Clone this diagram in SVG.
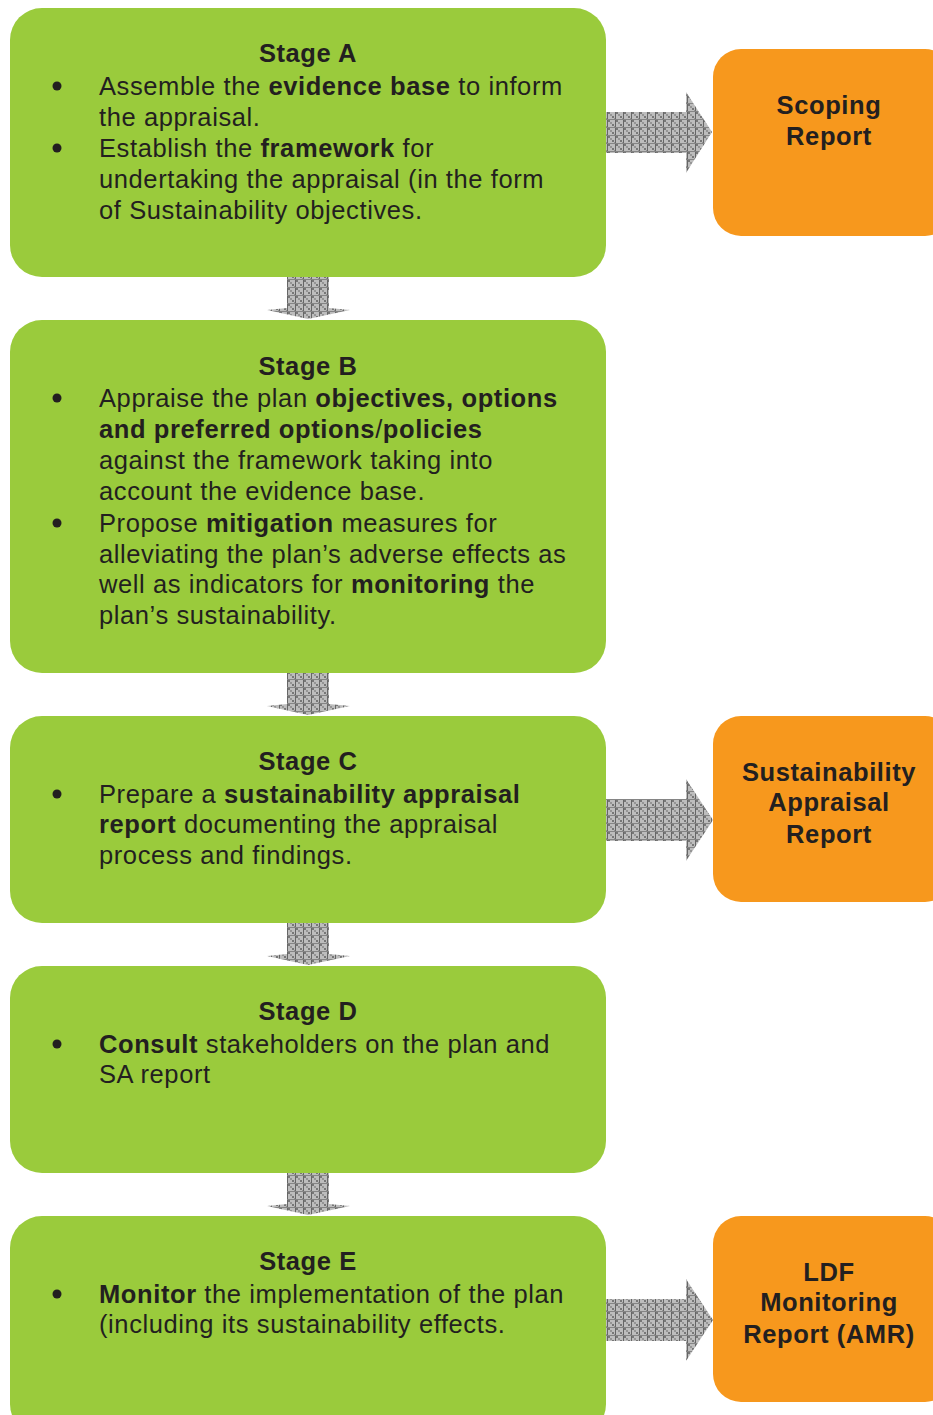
<svg xmlns="http://www.w3.org/2000/svg" width="933" height="1415" viewBox="0 0 933 1415">
<style>
.g{fill:#9acb3c}
.o{fill:#f7981d}
text{font-family:"Liberation Sans",Arial,sans-serif;fill:#231f20;font-size:25.5px;letter-spacing:0.6px}
.h{font-weight:bold;text-anchor:middle}
.r{font-weight:bold;text-anchor:middle}
.b{font-weight:bold}
.arr{fill:url(#pat)}
</style>
<defs>
<pattern id="pat" width="8" height="8" patternUnits="userSpaceOnUse">
<rect width="8" height="8" fill="#bdbdbd"/>
<rect x="0" y="0" width="2" height="2" fill="#777"/>
<rect x="4" y="4" width="2" height="2" fill="#777"/>
<rect x="2" y="2" width="2" height="2" fill="#959595"/>
<rect x="6" y="6" width="2" height="2" fill="#959595"/>
<rect x="7" y="0" width="1" height="8" fill="#666"/>
<rect x="0" y="7" width="8" height="1" fill="#858585"/>
</pattern>
</defs>
<g id="connectors">
<path class="arr" d="M606,112 H686 V92 L712,132 L686,173 V153 H606 Z"/>
<path class="arr" d="M606,799 H686 V779 L713,820 L686,861 V841 H606 Z"/>
<path class="arr" d="M606,1299 H686 V1279 L713,1320 L686,1361 V1341 H606 Z"/>
<path class="arr" d="M287,277 H329 V308 L350,310 L308,319 L267,310 L287,308 Z"/>
<path class="arr" d="M287,673 H329 V704 L350,706 L308,715 L267,706 L287,704 Z"/>
<path class="arr" d="M287,923 H329 V954 L350,956 L308,965 L267,956 L287,954 Z"/>
<path class="arr" d="M287,1173 H329 V1204 L350,1206 L308,1215 L267,1206 L287,1204 Z"/>
</g>
<g id="stageA">
<rect class="g" x="10" y="8" width="596" height="269" rx="32"/>
<text class="h" x="308" y="62">Stage A</text>
<circle cx="57" cy="86" r="4.5" fill="#231f20"/>
<text x="99" y="95">Assemble the <tspan class="b">evidence base</tspan> to inform</text>
<text x="99" y="126">the appraisal.</text>
<circle cx="57" cy="148" r="4.5" fill="#231f20"/>
<text x="99" y="157">Establish the <tspan class="b">framework</tspan> for</text>
<text x="99" y="188">undertaking the appraisal (in the form</text>
<text x="99" y="219">of Sustainability objectives.</text>
</g>
<g id="stageB">
<rect class="g" x="10" y="320" width="596" height="353" rx="32"/>
<text class="h" x="308" y="375">Stage B</text>
<circle cx="57" cy="398" r="4.5" fill="#231f20"/>
<text x="99" y="407">Appraise the plan <tspan class="b">objectives, options</tspan></text>
<text x="99" y="438"><tspan class="b">and preferred options</tspan>/<tspan class="b">policies</tspan></text>
<text x="99" y="469">against the framework taking into</text>
<text x="99" y="500">account the evidence base.</text>
<circle cx="57" cy="523" r="4.5" fill="#231f20"/>
<text x="99" y="532">Propose <tspan class="b">mitigation</tspan> measures for</text>
<text x="99" y="563">alleviating the plan’s adverse effects as</text>
<text x="99" y="593">well as indicators for <tspan class="b">monitoring</tspan> the</text>
<text x="99" y="624">plan’s sustainability.</text>
</g>
<g id="stageC">
<rect class="g" x="10" y="716" width="596" height="207" rx="32"/>
<text class="h" x="308" y="770">Stage C</text>
<circle cx="57" cy="794" r="4.5" fill="#231f20"/>
<text x="99" y="803">Prepare a <tspan class="b">sustainability appraisal</tspan></text>
<text x="99" y="833"><tspan class="b">report</tspan> documenting the appraisal</text>
<text x="99" y="864">process and findings.</text>
</g>
<g id="stageD">
<rect class="g" x="10" y="966" width="596" height="207" rx="32"/>
<text class="h" x="308" y="1020">Stage D</text>
<circle cx="57" cy="1044" r="4.5" fill="#231f20"/>
<text x="99" y="1053"><tspan class="b">Consult</tspan> stakeholders on the plan and</text>
<text x="99" y="1083">SA report</text>
</g>
<g id="stageE">
<rect class="g" x="10" y="1216" width="596" height="220" rx="32"/>
<text class="h" x="308" y="1270">Stage E</text>
<circle cx="57" cy="1294" r="4.5" fill="#231f20"/>
<text x="99" y="1303"><tspan class="b">Monitor</tspan> the implementation of the plan</text>
<text x="99" y="1333">(including its sustainability effects.</text>
</g>
<g id="scoping">
<rect class="o" x="713" y="49" width="240" height="187" rx="28"/>
<text class="r" x="829" y="114">Scoping</text>
<text class="r" x="829" y="145">Report</text>
</g>
<g id="saReport">
<rect class="o" x="713" y="716" width="240" height="186" rx="28"/>
<text class="r" x="829" y="781">Sustainability</text>
<text class="r" x="829" y="811">Appraisal</text>
<text class="r" x="829" y="843">Report</text>
</g>
<g id="ldf">
<rect class="o" x="713" y="1216" width="240" height="186" rx="28"/>
<text class="r" x="829" y="1281">LDF</text>
<text class="r" x="829" y="1311">Monitoring</text>
<text class="r" x="829" y="1343">Report (AMR)</text>
</g>
</svg>
